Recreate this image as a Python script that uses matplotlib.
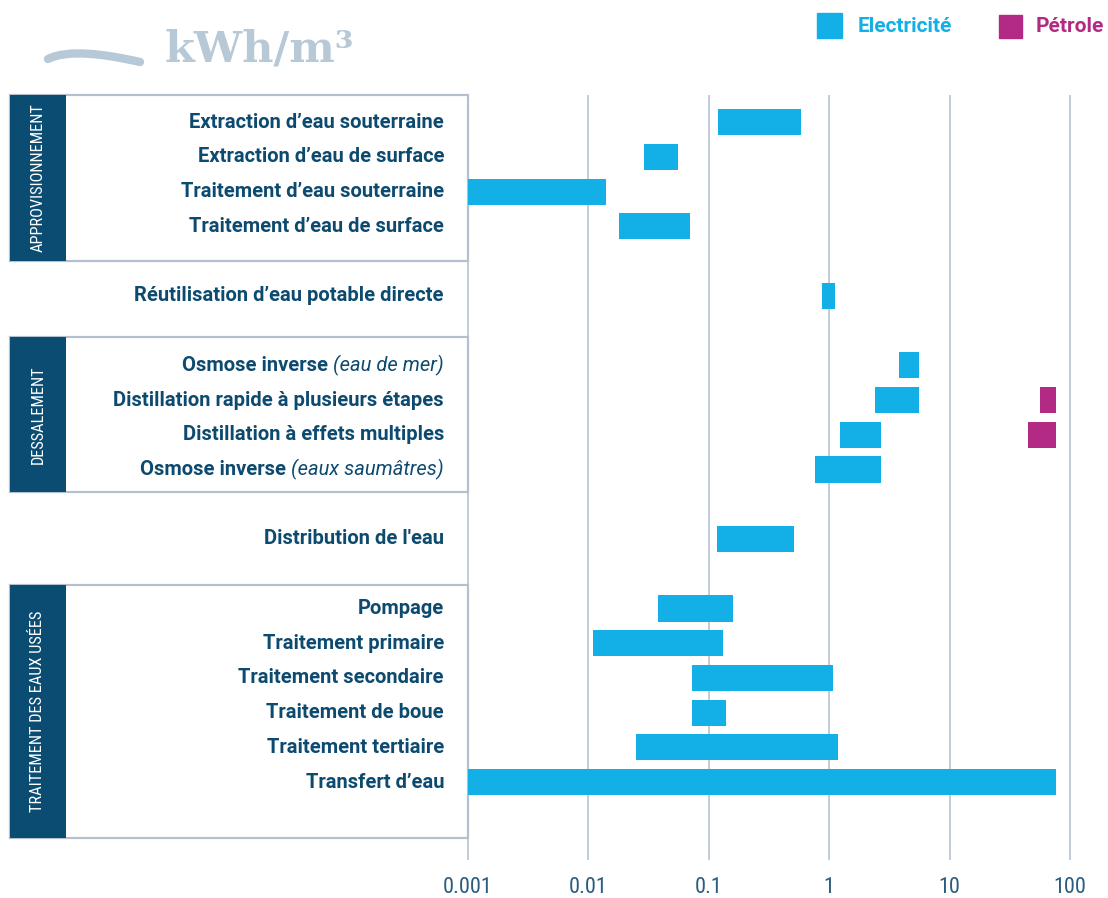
import numpy as np
import matplotlib.pyplot as plt
from matplotlib import font_manager
from matplotlib.patches import Rectangle, PathPatch
from matplotlib.path import Path
from matplotlib.transforms import blended_transform_factory

# ---- data ----
labels = [
    "Extraction d\u2019eau souterraine",
    "Extraction d\u2019eau de surface",
    "Traitement d\u2019eau souterraine",
    "Traitement d\u2019eau de surface",
    "R\u00e9utilisation d\u2019eau potable directe",
    "Osmose inverse",
    "Distillation rapide \u00e0 plusieurs \u00e9tapes",
    "Distillation \u00e0 effets multiples",
    "Osmose inverse",
    "Distribution de l'eau",
    "Pompage",
    "Traitement primaire",
    "Traitement secondaire",
    "Traitement de boue",
    "Traitement tertiaire",
    "Transfert d\u2019eau",
]
notes = ["", "", "", "", "", "(eau de mer)", "", "", "(eaux saum\u00e2tres)",
         "", "", "", "", "", "", ""]
row_pos = [0, 1, 2, 3, 5, 7, 8, 9, 10, 12, 14, 15, 16, 17, 18, 19]

elec_low = [0.12, 0.029, 0.001, 0.018, 0.87, 3.8, 2.4, 1.23, 0.76,
            0.117, 0.038, 0.011, 0.072, 0.072, 0.025, 0.001]
elec_high = [0.58, 0.056, 0.014, 0.07, 1.12, 5.6, 5.6, 2.7, 2.7,
             0.51, 0.158, 0.132, 1.08, 0.14, 1.18, 77]

petrol_rows = [6, 7]
petrol_low = [56, 45]
petrol_high = [77, 77]

groups = ["APPROVISIONNEMENT", "DESSALEMENT", "TRAITEMENT DES EAUX US\u00c9ES"]
group_span = [(-0.78, 4.0), (6.2, 10.65), (13.33, 20.6)]

ticks = [0.001, 0.01, 0.1, 1, 10, 100]
tick_labels = ["0.001", "0.01", "0.1", "1", "10", "100"]

# ---- style ----
BLUE = "#12b0e6"
PURPLE = "#b22a84"
NAVY = "#0d4a6f"
BAND = "#0b4d72"
GRID = "#bcc8d4"
BORDER = "#b3c0d0"
TITLE = "#b7c8d6"

installed = {f.name for f in font_manager.fontManager.ttflist}
narrow = "Roboto"
for cand in ["Roboto Condensed", "Liberation Sans Narrow"]:
    if cand in installed:
        narrow = cand
        break
NARROW = [narrow, "DejaVu Sans"]
FAM = ["Roboto", "DejaVu Sans"]

W, H = 1108, 898


def fx(px):
    return px / W


def fy(py):
    return 1 - py / H


fig = plt.figure(figsize=(W / 100, H / 100), dpi=100)
ax = fig.add_axes([fx(465.6), fy(860), (1080 - 465.6) / W, (860 - 95) / H])
ax.set_xscale("log")
ax.set_xlim(10 ** -3.02, 10 ** (2 + 10 / 120.4))
ax.set_ylim(21.24, -0.78)
for s in ax.spines.values():
    s.set_visible(False)
ax.xaxis.set_minor_locator(plt.NullLocator())
ax.set_xticks(ticks, tick_labels)
ax.set_yticks([])
ax.tick_params(axis="x", length=0, pad=12, labelsize=16, labelcolor="#2a5d80")
for t in ax.get_xticklabels():
    t.set_family(NARROW)
ax.grid(axis="x", color=GRID, lw=1.3)
ax.set_axisbelow(True)

ax.barh(row_pos, np.array(elec_high) - np.array(elec_low), left=elec_low,
        height=0.75, color=BLUE, zorder=3)
ax.barh([row_pos[i] for i in petrol_rows],
        np.array(petrol_high) - np.array(petrol_low), left=petrol_low,
        height=0.75, color=PURPLE, zorder=3)

tr = blended_transform_factory(fig.transFigure, ax.transData)

# group boxes
for name, (top, bot) in zip(groups, group_span):
    ax.add_patch(Rectangle((fx(10), top), fx(468) - fx(10), bot - top,
                           transform=tr, facecolor="white", edgecolor=BORDER,
                           lw=1.6, clip_on=False, zorder=1))
    ax.add_patch(Rectangle((fx(10), top), fx(66) - fx(10), bot - top,
                           transform=tr, facecolor=BAND, edgecolor="none",
                           clip_on=False, zorder=2))
    ax.text(fx(38), (top + bot) / 2, name, transform=tr, rotation=90,
            ha="center", va="center", color="white", fontsize=11.8,
            family=NARROW)

# row labels
for lab, note, y in zip(labels, notes, row_pos):
    if note:
        it = ax.text(fx(444), y, note, transform=tr, ha="right", va="center",
                     color=NAVY, fontsize=14.5, style="italic", family=FAM)
        ax.annotate(lab + " ", xy=(0, y), xycoords=(it, tr), ha="right",
                    va="center", color=NAVY, fontsize=14.5, fontweight="bold",
                    family=FAM)
    else:
        ax.text(fx(444), y, lab, transform=tr, ha="right", va="center",
                color=NAVY, fontsize=14.5, fontweight="bold", family=FAM)

# title with swoosh
fig.text(fx(165), fy(50), "kWh/m\u00b3", color=TITLE, fontsize=31,
         fontweight="bold", family="DejaVu Serif", va="center")
verts = [(48, 59), (68, 49), (105, 54), (140, 62)]
path = Path([(fx(x), fy(y)) for x, y in verts],
            [Path.MOVETO, Path.CURVE4, Path.CURVE4, Path.CURVE4])
fig.patches.append(PathPatch(path, transform=fig.transFigure, fill=False,
                             edgecolor=TITLE, lw=6, capstyle="round"))

# legend
fig.patches.append(Rectangle((fx(817), fy(38)), 25 / W, 25 / H,
                             transform=fig.transFigure, color=BLUE))
fig.text(fx(858), fy(27), "Electricit\u00e9", color=BLUE, fontsize=15,
         fontweight="bold", family=FAM, va="center")
fig.patches.append(Rectangle((fx(999), fy(38)), 23 / W, 23 / H,
                             transform=fig.transFigure, color=PURPLE))
fig.text(fx(1036), fy(27), "P\u00e9trole", color=PURPLE, fontsize=15,
         fontweight="bold", family=FAM, va="center")

fig.savefig("out.png", dpi=100)
